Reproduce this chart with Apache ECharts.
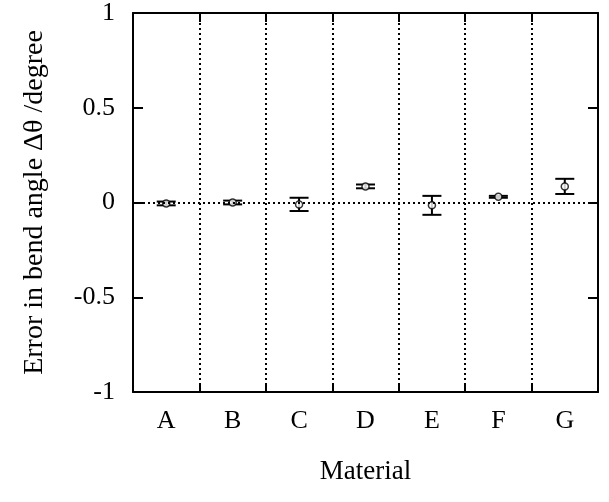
<!DOCTYPE html>
<html><head><meta charset="utf-8">
<script src="https://cdn.jsdelivr.net/npm/echarts@6/dist/echarts.min.js"></script>
<style>html,body{margin:0;padding:0;background:#fff}#c{width:609px;height:502px}</style>
</head><body><div id="c"></div>
<script>
const categories = ['A','B','C','D','E','F','G'];
const values = [-0.005, 0.0, -0.01, 0.085, -0.015, 0.03, 0.085];
const errors = [0.01, 0.01, 0.035, 0.01, 0.05, 0.005, 0.04];
const yTicks = [-1, -0.5, 0, 0.5, 1];

const chart = echarts.init(document.getElementById('c'));
const font = 'Liberation Serif';
const fs = 26;
const errData = categories.map((c,i)=>[i, values[i]-errors[i], values[i]+errors[i]]);
const axisLineStyle = {color:'#000', width:2};
chart.setOption({
  animation:false,
  grid:{left:133, right:11, top:13, bottom:110},
  xAxis:[{
    type:'category', data:categories, position:'bottom',
    name:'Material', nameLocation:'middle', nameGap:66,
    nameTextStyle:{fontFamily:font, fontSize:fs+1, color:'#000'},
    axisLine:{onZero:false, lineStyle:axisLineStyle},
    axisTick:{show:true, inside:true, length:9, interval:0, lineStyle:axisLineStyle},
    axisLabel:{fontFamily:font, fontSize:fs, color:'#000', margin:16, interval:0},
    splitLine:{show:true, interval:0, lineStyle:{color:'#000', type:[2,3], width:2}}
  },{
    type:'category', data:categories, position:'top',
    axisLine:{onZero:false, lineStyle:axisLineStyle},
    axisTick:{show:true, inside:true, length:9, interval:0, lineStyle:axisLineStyle},
    axisLabel:{show:false}, splitLine:{show:false}
  }],
  yAxis:[{
    type:'value', min:-1, max:1, interval:0.5, position:'left',
    name:'Error in bend angle Δθ /degree', nameLocation:'middle', nameGap:84,
    nameTextStyle:{fontFamily:font, fontSize:fs+2, color:'#000'},
    axisLine:{show:true, onZero:false, lineStyle:axisLineStyle},
    axisTick:{show:true, inside:true, length:10, lineStyle:axisLineStyle},
    axisLabel:{fontFamily:font, fontSize:fs, color:'#000', margin:18,
      formatter:v=>String(yTicks.find(t=>Math.abs(t-v)<1e-9) ?? v)},
    splitLine:{show:false}
  },{
    type:'value', min:-1, max:1, interval:0.5, position:'right',
    axisLine:{show:true, onZero:false, lineStyle:axisLineStyle},
    axisTick:{show:true, inside:true, length:10, lineStyle:axisLineStyle},
    axisLabel:{show:false}, splitLine:{show:false}
  }],
  series:[{
    type:'custom', xAxisIndex:0, yAxisIndex:0, data:errData,
    renderItem:(params, api)=>{
      const x = api.value(0);
      const lo = api.coord([x, api.value(1)]);
      const hi = api.coord([x, api.value(2)]);
      const hw = 9.5;
      const st = {stroke:'#000', lineWidth:2};
      return {type:'group', children:[
        {type:'line', shape:{x1:lo[0], y1:lo[1], x2:hi[0], y2:hi[1]}, style:st},
        {type:'line', shape:{x1:lo[0]-hw, y1:lo[1], x2:lo[0]+hw, y2:lo[1]}, style:st},
        {type:'line', shape:{x1:hi[0]-hw, y1:hi[1], x2:hi[0]+hw, y2:hi[1]}, style:st}
      ]};
    },
    z:3
  },{
    type:'scatter', xAxisIndex:0, yAxisIndex:0,
    data:values.map((v,i)=>[i,v]),
    symbol:'circle', symbolSize:7,
    itemStyle:{color:'#fff', borderColor:'#000', borderWidth:1.5},
    z:4,
    markLine:{silent:true, symbol:'none', label:{show:false},
      lineStyle:{color:'#000', type:[2,3], width:2},
      data:[{yAxis:0}]}
  }]
});
</script></body></html>
